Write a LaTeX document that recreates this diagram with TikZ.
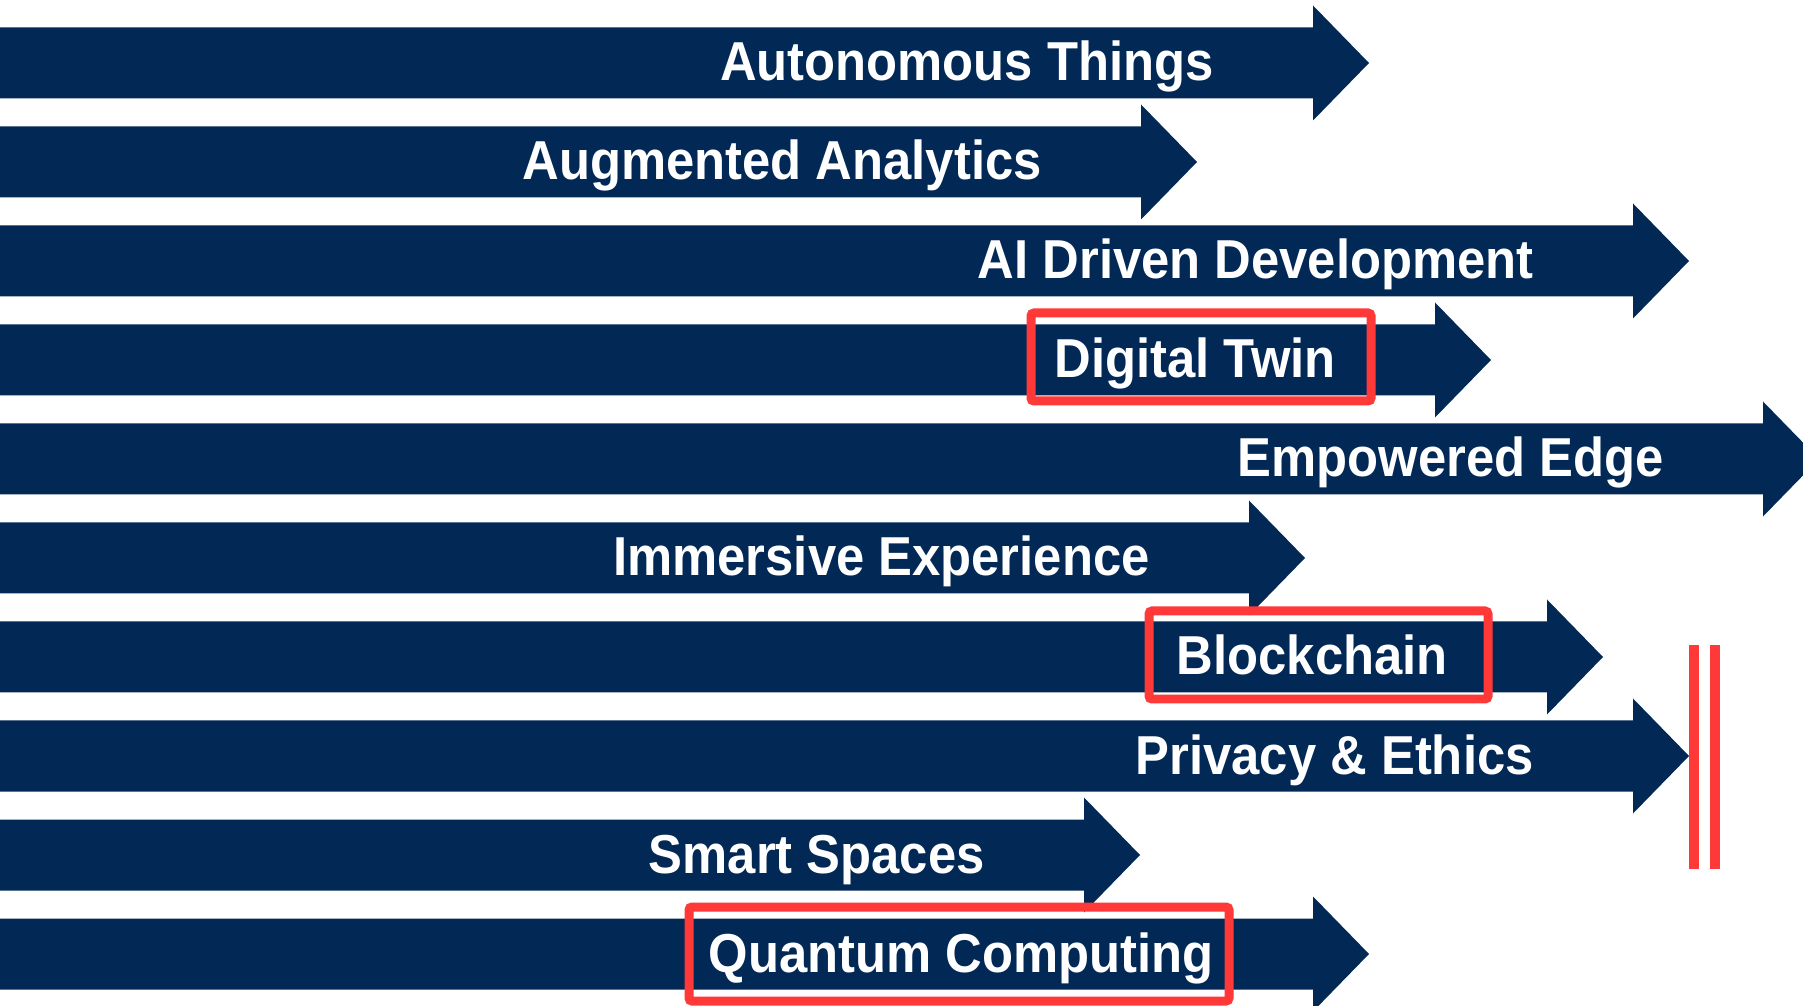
\documentclass[tikz,border=0pt]{standalone}
\usepackage{fontspec}
\usepackage{graphicx}
\setmainfont{Liberation Sans}
\definecolor{navy}{RGB}{2,40,86}
\definecolor{hlred}{RGB}{255,56,56}
\begin{document}
\begin{tikzpicture}[x=0.02cm,y=-0.02cm,
  arrowband/.style={fill=navy},
  bandtext/.style={text=white,font=\bfseries\fontsize{28.9}{30}\selectfont,anchor=base east,inner sep=0pt},
  highlight/.style={draw=hlred,line width=0.18cm,rounded corners=0.06cm}]
\useasboundingbox (0,0) rectangle (1803,1006);
\clip (0,0) rectangle (1803,1006);
\fill[white] (0,0) rectangle (1803,1006);
% one arrow per row: row index / x of the head base / label / node name
\foreach \i/\hb/\txt/\nm in {
  1/1313/Autonomous Things/autonomous,
  2/1141/Augmented Analytics/augmented,
  3/1633/AI Driven Development/aidriven,
  4/1435/Digital Twin/twin,
  5/1763/Empowered Edge/edge,
  6/1249/Immersive Experience/immersive,
  7/1547/Blockchain/blockchain,
  8/1633/Privacy \& Ethics/privacy,
  9/1084/Smart Spaces/spaces,
  10/1313/Quantum Computing/quantum}{
  \pgfmathsetmacro\cy{63+99*(\i-1)}
  \fill[arrowband] (-5,\cy-35.5) -- (\hb,\cy-35.5) -- (\hb,\cy-57.5)
    -- (\hb+56,\cy) -- (\hb,\cy+57.5) -- (\hb,\cy+35.5) -- (-5,\cy+35.5) -- cycle;
  \node[bandtext] (\nm) at (\hb-99,\cy+18) {\scalebox{1}[1.08]{\txt}};
}
% highlight frames
\draw[highlight] (1031,313) rectangle (1371,401);
\draw[highlight] (1149,611) rectangle (1488,699);
\draw[highlight] (689,907) rectangle (1229,1001);
% double bar at the right
\fill[hlred] (1689,645) rectangle (1699,869);
\fill[hlred] (1709.5,645) rectangle (1719.5,869);
\end{tikzpicture}
\end{document}
